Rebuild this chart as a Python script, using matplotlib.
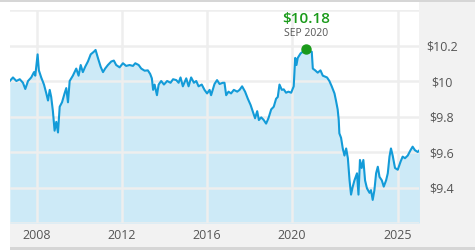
import matplotlib
matplotlib.use("Agg")
import matplotlib.pyplot as plt
from matplotlib.patches import Rectangle

plt.rcParams['font.family'] = ['Open Sans', 'DejaVu Sans']

# price history (decimal year, NAV in $)
years = [
    2006.72, 2006.87, 2007.03, 2007.19, 2007.34, 2007.45, 2007.58, 2007.73, 2007.86, 2007.92,
    2008.03, 2008.09, 2008.20, 2008.33, 2008.44, 2008.52, 2008.60, 2008.67, 2008.75, 2008.83,
    2008.91, 2008.99, 2009.07, 2009.18, 2009.30, 2009.38, 2009.46, 2009.54, 2009.69, 2009.85,
    2009.96, 2010.06, 2010.16, 2010.27, 2010.40, 2010.53, 2010.68, 2010.76, 2010.87, 2011.00,
    2011.11, 2011.21, 2011.34, 2011.50, 2011.62, 2011.73, 2011.89, 2012.05, 2012.20, 2012.36,
    2012.52, 2012.63, 2012.79, 2012.91, 2013.07, 2013.22, 2013.33, 2013.41, 2013.47, 2013.54,
    2013.65, 2013.73, 2013.85, 2013.98, 2014.13, 2014.29, 2014.41, 2014.56, 2014.67, 2014.76,
    2014.87, 2015.03, 2015.14, 2015.26, 2015.39, 2015.50, 2015.61, 2015.76, 2015.89, 2016.01,
    2016.13, 2016.20, 2016.36, 2016.48, 2016.60, 2016.75, 2016.83, 2016.91, 2017.02, 2017.14,
    2017.27, 2017.43, 2017.54, 2017.66, 2017.80, 2017.93, 2018.06, 2018.16, 2018.27, 2018.37,
    2018.45, 2018.56, 2018.68, 2018.79, 2018.90, 2019.03, 2019.15, 2019.26, 2019.34, 2019.42,
    2019.53, 2019.62, 2019.73, 2019.84, 2019.97, 2020.09, 2020.16, 2020.22, 2020.28, 2020.41,
    2020.52, 2020.67, 2020.83, 2020.94, 2020.99, 2021.10, 2021.22, 2021.35, 2021.46, 2021.66,
    2021.77, 2021.88, 2022.01, 2022.08, 2022.16, 2022.21, 2022.24, 2022.32, 2022.40, 2022.48,
    2022.56, 2022.64, 2022.72, 2022.79, 2022.87, 2022.95, 2023.07, 2023.14, 2023.21, 2023.29,
    2023.37, 2023.45, 2023.54, 2023.66, 2023.73, 2023.81, 2023.89, 2023.97, 2024.05, 2024.13,
    2024.24, 2024.33, 2024.44, 2024.52, 2024.60, 2024.67, 2024.75, 2024.86, 2024.99, 2025.12,
    2025.22, 2025.33, 2025.46, 2025.59, 2025.69, 2025.80, 2025.93, 2026.01,
]
prices = [
    10.00, 10.02, 10.00, 10.01, 9.99, 9.955, 10.00, 10.02, 10.05, 10.03,
    10.15, 10.06, 10.02, 9.98, 9.93, 9.89, 9.95, 9.91, 9.83, 9.72,
    9.77, 9.71, 9.855, 9.88, 9.93, 9.96, 9.88, 10.00, 10.03, 10.07,
    10.03, 10.09, 10.05, 10.08, 10.11, 10.15, 10.165, 10.175, 10.13, 10.08,
    10.05, 10.07, 10.09, 10.11, 10.115, 10.09, 10.077, 10.10, 10.085, 10.09,
    10.085, 10.10, 10.09, 10.07, 10.058, 10.06, 10.04, 10.015, 9.95, 9.98,
    9.92, 9.98, 10.00, 9.98, 10.00, 9.99, 10.01, 10.005, 9.99, 10.02,
    9.97, 10.015, 9.97, 10.02, 9.99, 10.00, 9.97, 9.98, 9.95, 9.93,
    9.95, 9.92, 9.983, 10.005, 9.983, 9.99, 9.99, 9.92, 9.94, 9.93,
    9.95, 9.94, 9.95, 9.97, 9.94, 9.90, 9.865, 9.83, 9.79, 9.83,
    9.78, 9.795, 9.78, 9.76, 9.79, 9.84, 9.855, 9.90, 9.91, 9.98,
    9.95, 9.953, 9.934, 9.94, 9.934, 9.97, 10.13, 10.09, 10.13, 10.155,
    10.165, 10.18, 10.165, 10.165, 10.07, 10.06, 10.047, 10.06, 10.03, 10.02,
    10.00, 9.97, 9.93, 9.89, 9.84, 9.78, 9.705, 9.68, 9.62, 9.58,
    9.62, 9.565, 9.44, 9.36, 9.405, 9.44, 9.48, 9.36, 9.555, 9.51,
    9.555, 9.44, 9.395, 9.37, 9.385, 9.33, 9.385, 9.48, 9.517, 9.46,
    9.44, 9.405, 9.44, 9.48, 9.574, 9.62, 9.58, 9.51, 9.50, 9.545,
    9.574, 9.565, 9.58, 9.61, 9.63, 9.61, 9.60, 9.61,
]

peak_year = 2020.67
peak_price = 10.18
peak_label = "$10.18"
peak_date = "SEP 2020"

x_ticks = [2008, 2012, 2016, 2020, 2025]
y_ticks = [9.2, 9.4, 9.6, 9.8, 10.0, 10.2, 10.4]
y_labels = ["", "$9.4", "$9.6", "$9.8", "$10", "$10.2", ""]

W, H = 475, 250
fig = plt.figure(figsize=(W / 100, H / 100), dpi=100)
fig.patch.set_facecolor("white")

# grey frame: top rule, right label panel, bottom label band (behind the axes)
frame = [
    ((0, H - 2), W, 2, "#d6d6d6"),
    ((419, 3), W - 419, H - 5, "#f2f2f2"),
    ((10, 3), W - 10, 24, "#f2f2f2"),
    ((10, 0), W - 10, 3, "#d6d6d6"),
]
for (x0, y0), w, h, c in frame:
    fig.patches.append(Rectangle((x0 / W, y0 / H), w / W, h / H, transform=fig.transFigure,
                                 facecolor=c, edgecolor="none", zorder=-5))

ax = fig.add_axes([10 / W, 27 / H, 409 / W, 213 / H])
ax.set_facecolor("white")

ax.fill_between(years, prices, 9.2, color="#cdeaf7", linewidth=0, zorder=1)
ax.plot(years, prices, color="#139bd8", linewidth=1.5, zorder=3)
ax.plot([peak_year], [peak_price], "o", color="#1a9a1a", markersize=6.5, zorder=4)

ax.annotate(peak_label, (peak_year, peak_price), xytext=(0, 21.5), textcoords="offset points",
            ha="center", va="center", color="#1a9a1a", fontsize=11, fontweight="semibold")
ax.annotate(peak_date, (peak_year, peak_price), xytext=(0, 11.5), textcoords="offset points",
            ha="center", va="center", color="#555555", fontsize=7.5)

ax.set_xlim(2006.73, 2025.99)
ax.set_ylim(9.2, 10.4)

ax.set_xticks(x_ticks)
ax.set_xticklabels([str(y) for y in x_ticks])
ax.set_yticks(y_ticks)
ax.set_yticklabels(y_labels)
ax.yaxis.tick_right()

ax.grid(True, color="#eeeeee", linewidth=1.8, zorder=2)
ax.set_axisbelow("line")
ax.tick_params(axis="both", length=0, labelsize=9, labelcolor="#555555")
ax.tick_params(axis="x", pad=4)
ax.tick_params(axis="y", pad=16.5)
for lab in ax.get_yticklabels():
    lab.set_horizontalalignment("center")

for s in ax.spines.values():
    s.set_visible(False)

fig.savefig("out.png", dpi=100, facecolor=fig.get_facecolor())
